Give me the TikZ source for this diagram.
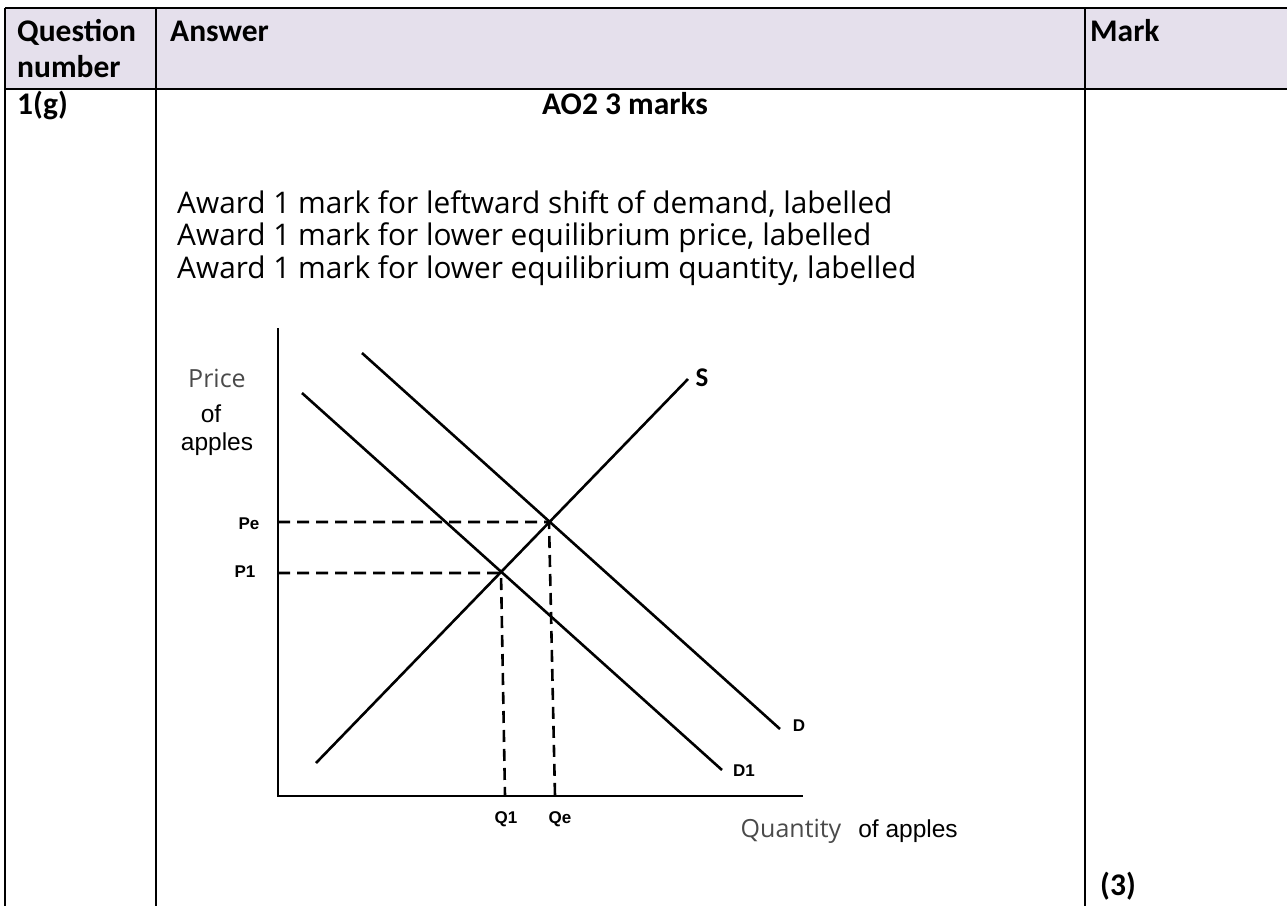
\documentclass[tikz,border=0pt]{standalone}
\usepackage{fontspec}
\setmainfont{Carlito}
\newfontfamily\bodyfont{Open Sans}
\newfontfamily\chartfont{Liberation Sans}
\usetikzlibrary{positioning}
\definecolor{headfill}{HTML}{E5E0EC}
\definecolor{axisgray}{HTML}{4A4A4A}

\begin{document}
\begin{tikzpicture}[x=1pt, y=-1pt,
    rule/.style={line width=2pt},
    curve/.style={line width=2.6pt},
    guide/.style={line width=2.6pt, dash pattern=on 12pt off 7pt},
    head/.style={font=\bfseries\fontsize{31.5}{36}\selectfont, inner sep=0pt, anchor=base west},
    body/.style={font=\bodyfont\fontsize{29.8}{33}\selectfont, inner sep=0pt, anchor=base west},
    tag/.style={font=\chartfont\bfseries\fontsize{17}{20}\selectfont, inner sep=0pt, anchor=base},
    axislabel/.style={font=\bodyfont\fontsize{25}{30}\selectfont, text=axisgray, inner sep=0pt, anchor=base},
    unitlabel/.style={font=\chartfont\fontsize{24.5}{28}\selectfont, inner sep=0pt, anchor=base}]
  \useasboundingbox (0,0) rectangle (1287,906);

  % table frame
  \fill[headfill] (5,8) rectangle (1287,89);
  \draw[rule] (5,8) -- (1287,8);
  \draw[rule] (5,89) -- (1287,89);
  \draw[rule] (5,8) -- (5,906);
  \draw[rule] (156,8) -- (156,906);
  \draw[rule] (1085,8) -- (1085,906);

  % header row
  \node (qhead) [head] at (17,41) {Question};
  \node (numhead) [head] at (17,77) {number};
  \node (anshead) [head] at (170,41) {Answer};
  \node (markhead) [head] at (1090,41) {Mark};

  % answer row
  \node (qnum) [head] at (17,114) {1(g)};
  \node (ao) [head, anchor=base] at (625,114) {AO2 3 marks};
  \node (award1) [body] at (177,213) {Award 1 mark for leftward shift of demand, labelled};
  \node (award2) [body] at (177,245.5) {Award 1 mark for lower equilibrium price, labelled};
  \node (award3) [body] at (177,278) {Award 1 mark for lower equilibrium quantity, labelled};
  \node (total) [head] at (1100,895) {(3)};

  % axes
  \coordinate (ytop) at (278,328);
  \coordinate (origin) at (278,796);
  \coordinate (xend) at (803,796);
  \draw[curve] (ytop) -- (origin) -- (xend);

  % supply and demand
  \coordinate (s0) at (316,763);
  \coordinate (s1) at (688,379);
  \coordinate (d0) at (362,353);
  \coordinate (d1) at (780,729);
  \coordinate (e0) at (302,393);
  \coordinate (e1) at (722,770);
  \draw[curve] (s0) -- (s1);
  \draw[curve] (d0) -- (d1);
  \draw[curve] (e0) -- (e1);

  % equilibria
  \coordinate (pe) at (549,522);
  \coordinate (p1) at (501,573);
  \coordinate (peaxis) at (278,522);
  \coordinate (p1axis) at (278,573);
  \coordinate (qeaxis) at (555,796);
  \coordinate (q1axis) at (505,796);
  \draw[guide] (peaxis) -- (pe) -- (qeaxis);
  \draw[guide] (p1axis) -- (p1) -- (q1axis);

  % labels
  \node (slab) [tag, font=\bfseries\fontsize{27}{30}\selectfont] at (702,386) {S};
  \node (dlab) [tag] at (799,731) {D};
  \node (d1lab) [tag] at (744,776) {D1};
  \node (pelab) [tag] at (249,529) {Pe};
  \node (p1lab) [tag] at (245,577) {P1};
  \node (q1lab) [tag] at (506,823) {Q1};
  \node (qelab) [tag] at (560,823) {Qe};
  \node (price) [axislabel] at (217,387) {Price};
  \node (pof) [unitlabel] at (211,422) {of};
  \node (papples) [unitlabel] at (217,450) {apples};
  \node (qty) [axislabel] at (791,837) {Quantity};
  \node (qof) [unitlabel] at (908,837) {of apples};
\end{tikzpicture}
\end{document}
